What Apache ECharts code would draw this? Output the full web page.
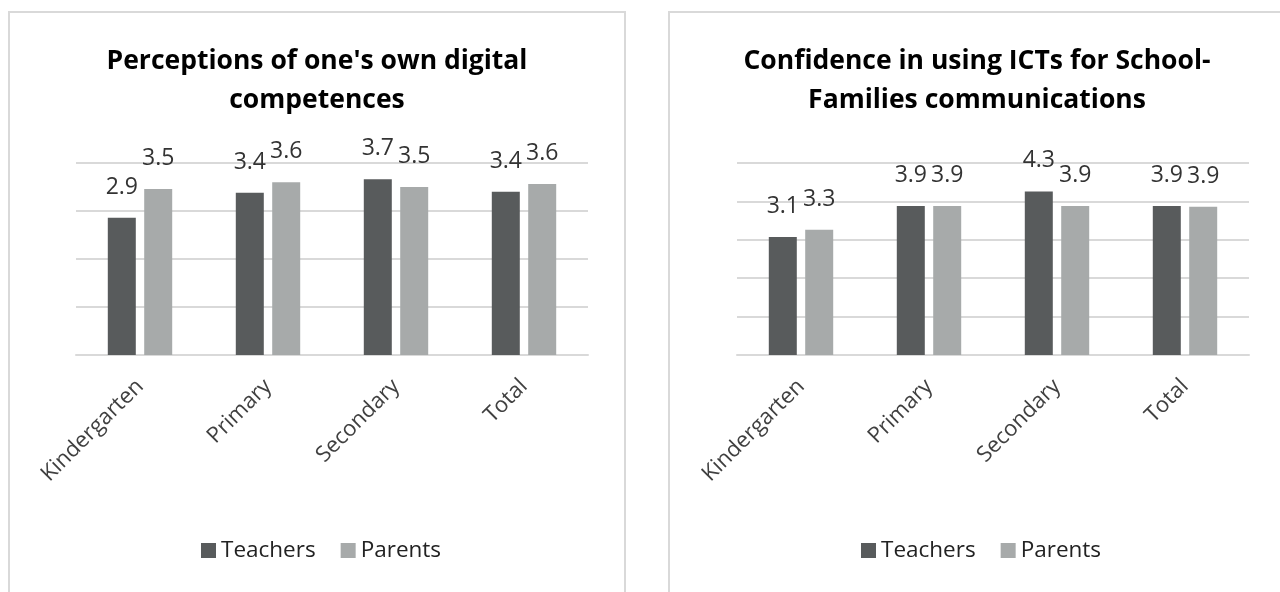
<!DOCTYPE html>
<html>
<head>
<meta charset="utf-8">
<script src="https://cdn.jsdelivr.net/npm/echarts@6/dist/echarts.min.js"></script>
<style>
  html, body { margin: 0; padding: 0; background: #fff; }
  body { width: 1280px; height: 592px; overflow: hidden; position: relative; }
  .panel { position: absolute; top: 11px; width: 618px; height: 600px;
           border: 2px solid #d9d9d9; box-sizing: border-box; }
  #left { left: 8px; }
  #right { left: 668px; }
</style>
</head>
<body>
<div id="left" class="panel"></div>
<div id="right" class="panel"></div>
<script>
// categories and values
var categories = ['Kindergarten', 'Primary', 'Secondary', 'Total'];
var seriesNames = ['Teachers', 'Parents'];
var competenceTeachers = [2.86, 3.38, 3.66, 3.4];
var competenceParents = [3.46, 3.6, 3.5, 3.56];
var confidenceTeachers = [3.07, 3.88, 4.26, 3.88];
var confidenceParents = [3.26, 3.88, 3.88, 3.86];
var competenceMax = 4;
var confidenceMax = 5;

var FONT = '"Open Sans", "Noto Sans", sans-serif';
var colors = ['#585b5c', '#a7aaaa'];

function barSeries(name, data, color) {
  return {
    name: name,
    type: 'bar',
    data: data,
    barWidth: 28,
    barGap: '30%',
    itemStyle: { color: color },
    label: {
      show: true,
      position: 'top',
      distance: 19,
      fontFamily: FONT,
      fontSize: 23,
      color: '#333',
      formatter: function (p) { return p.value.toFixed(1); }
    }
  };
}

function makeOption(title, teachers, parents, yMax, gridLeft) {
  return {
    animation: false,
    textStyle: { fontFamily: FONT },
    title: {
      text: title,
      left: 'center',
      top: 24,
      textStyle: { fontFamily: FONT, fontSize: 26.5, fontWeight: 'bold', color: '#000', lineHeight: 39 }
    },
    legend: {
      data: seriesNames,
      left: 186,
      top: 521,
      itemWidth: 15,
      itemHeight: 15,
      itemGap: 25,
      icon: 'rect',
      textStyle: { fontFamily: FONT, fontSize: 22.5, color: '#222' }
    },
    grid: { left: gridLeft, top: 150, width: 512, height: 192 },
    xAxis: {
      type: 'category',
      data: categories,
      axisLine: { lineStyle: { color: '#d9d9d9', width: 2 } },
      axisTick: { show: false },
      axisLabel: { rotate: 45, margin: 28, fontFamily: FONT, fontSize: 22, color: '#404040' }
    },
    yAxis: {
      type: 'value',
      min: 0,
      max: yMax,
      interval: 1,
      axisLabel: { show: false },
      axisLine: { show: false },
      axisTick: { show: false },
      splitLine: { lineStyle: { color: '#d9d9d9', width: 2 } }
    },
    series: [
      barSeries(seriesNames[0], teachers, colors[0]),
      barSeries(seriesNames[1], parents, colors[1])
    ]
  };
}

var leftChart = echarts.init(document.getElementById('left'));
leftChart.setOption(makeOption("Perceptions of one's own digital\ncompetences",
  competenceTeachers, competenceParents, competenceMax, 66));

var rightChart = echarts.init(document.getElementById('right'));
rightChart.setOption(makeOption('Confidence in using ICTs for School-\nFamilies communications',
  confidenceTeachers, confidenceParents, confidenceMax, 67));
</script>
</body>
</html>
